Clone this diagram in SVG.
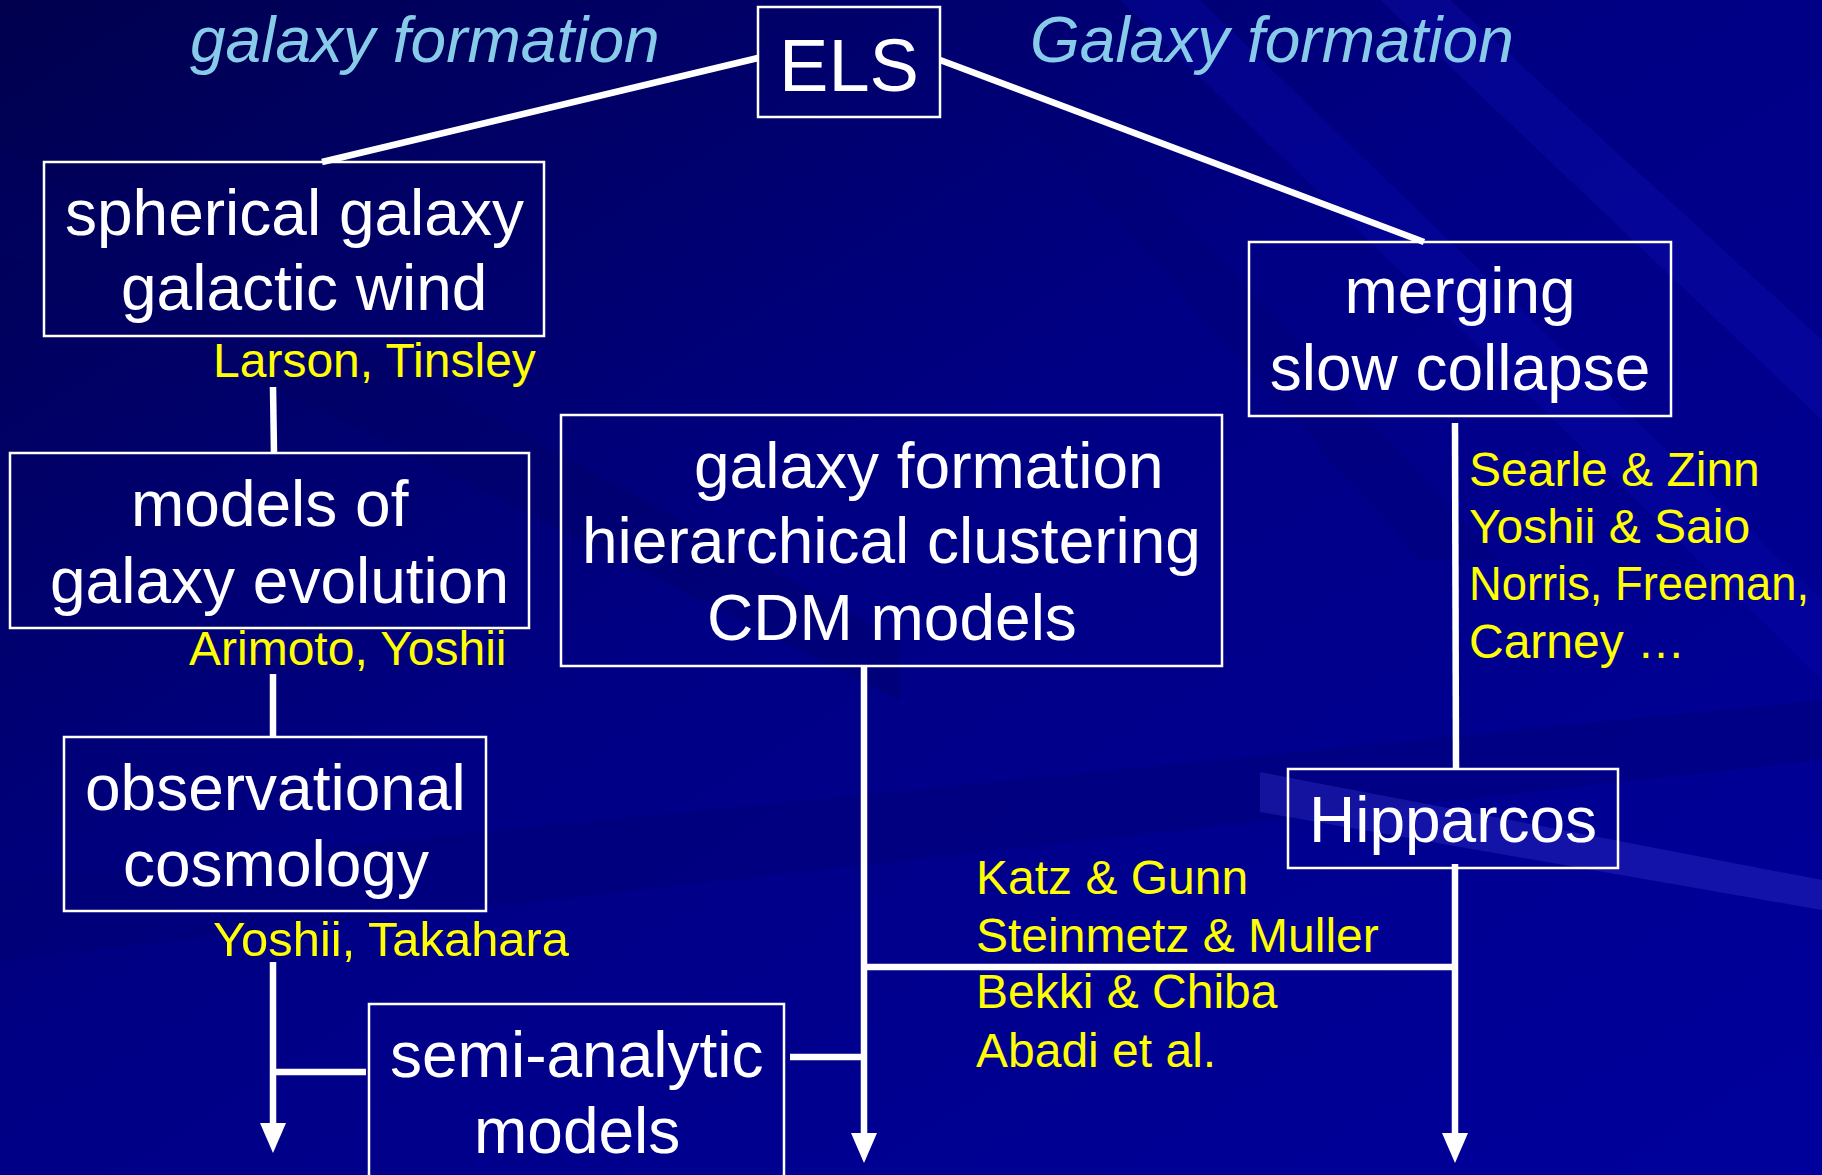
<svg xmlns="http://www.w3.org/2000/svg" width="1822" height="1175" viewBox="0 0 1822 1175">
<defs>
<linearGradient id="bg" x1="0" y1="0" x2="1" y2="1">
<stop offset="0" stop-color="#00004e"/>
<stop offset="0.45" stop-color="#000084"/>
<stop offset="1" stop-color="#00009c"/>
</linearGradient>
<marker id="arr" markerUnits="userSpaceOnUse" markerWidth="30" markerHeight="26" viewBox="0 0 30 26" refX="4" refY="13" orient="auto">
<path d="M0,0 L30,13 L0,26 Z" fill="#ffffff"/>
</marker>
<style>
.box{fill:none;stroke:#ffffff;stroke-width:2.5}
.t{font-family:"Liberation Sans",Arial,sans-serif;font-size:64px;fill:#ffffff}
.y{font-family:"Liberation Sans",Arial,sans-serif;font-size:48px;fill:#ffff00}
.h{font-family:"Liberation Sans",Arial,sans-serif;font-size:64px;font-style:italic;fill:#87cbe8}
.c{fill:none;stroke:#ffffff;stroke-width:6.5}
.m{text-anchor:middle}
</style>
</defs>
<rect width="1822" height="1175" fill="url(#bg)"/>
<g id="background-streaks">
<polygon points="0,150 900,640 900,700 0,250" fill="#000060" opacity="0.35"/>
<polygon points="0,880 1822,700 1822,760 0,960" fill="#000070" opacity="0.35"/>
<polygon points="1260,772 1822,880 1822,910 1260,812" fill="#3030c8" opacity="0.4"/>
<polygon points="1200,0 1822,600 1822,680 1120,0" fill="#0a0ab0" opacity="0.35"/>
<polygon points="1450,0 1822,340 1822,420 1380,0" fill="#1010b8" opacity="0.3"/>
<polygon points="980,0 1500,560 1420,560 920,0" fill="#000070" opacity="0.3"/>
</g>
<text class="h" x="190" y="62">galaxy formation</text>
<text class="h" x="1030" y="62">Galaxy formation</text>
<g id="connectors">
<line class="c" x1="758" y1="58" x2="322" y2="162"/>
<line class="c" x1="940" y1="60" x2="1424" y2="242"/>
<line class="c" x1="273" y1="387" x2="274" y2="453"/>
<line class="c" x1="273" y1="674" x2="273" y2="737"/>
<line class="c" x1="273" y1="962" x2="273" y2="1127" marker-end="url(#arr)"/>
<line class="c" x1="273" y1="1072" x2="366" y2="1072"/>
<line class="c" x1="790" y1="1057" x2="864" y2="1057"/>
<line class="c" x1="864" y1="666" x2="864" y2="1137" marker-end="url(#arr)"/>
<line class="c" x1="864" y1="967" x2="1455" y2="967"/>
<line class="c" x1="1455" y1="423" x2="1456" y2="769"/>
<line class="c" x1="1455" y1="864" x2="1455" y2="1137" marker-end="url(#arr)"/>
</g>
<g id="els">
<rect class="box" x="758" y="7" width="182" height="110"/>
<text class="t m" x="849" y="91" style="font-size:74px">ELS</text>
</g>
<g id="spherical">
<rect class="box" x="44" y="162" width="500" height="174"/>
<text class="t" x="65" y="235">spherical galaxy</text>
<text class="t" x="121" y="310">galactic wind</text>
<text class="y" x="213" y="377">Larson, Tinsley</text>
</g>
<g id="models">
<rect class="box" x="10" y="453" width="519" height="175"/>
<text class="t" x="131" y="526">models of</text>
<text class="t" x="50" y="603">galaxy evolution</text>
<text class="y" x="189" y="665">Arimoto, Yoshii</text>
</g>
<g id="observational">
<rect class="box" x="64" y="737" width="422" height="174"/>
<text class="t" x="85" y="810">observational</text>
<text class="t" x="123" y="886">cosmology</text>
<text class="y" x="213" y="956" textLength="356" lengthAdjust="spacingAndGlyphs">Yoshii, Takahara</text>
</g>
<g id="semi-analytic">
<rect class="box" x="369" y="1004" width="415" height="190"/>
<text class="t" x="390" y="1077">semi-analytic</text>
<text class="t" x="474" y="1153">models</text>
</g>
<g id="hierarchical">
<rect class="box" x="561" y="415" width="661" height="251"/>
<text class="t" x="694" y="488">galaxy formation</text>
<text class="t" x="582" y="563">hierarchical clustering</text>
<text class="t" x="707" y="640">CDM models</text>
</g>
<g id="merging">
<rect class="box" x="1249" y="242" width="422" height="174"/>
<text class="t m" x="1460" y="313">merging</text>
<text class="t m" x="1460" y="390">slow collapse</text>
</g>
<g id="halo-refs">
<text class="y" x="1469" y="486">Searle &amp; Zinn</text>
<text class="y" x="1469" y="543">Yoshii &amp; Saio</text>
<text class="y" x="1469" y="600" textLength="340" lengthAdjust="spacingAndGlyphs">Norris, Freeman,</text>
<text class="y" x="1469" y="658">Carney …</text>
</g>
<g id="hipparcos">
<rect class="box" x="1288" y="769" width="330" height="99"/>
<text class="t m" x="1453" y="842">Hipparcos</text>
</g>
<g id="sim-refs">
<text class="y" x="976" y="894">Katz &amp; Gunn</text>
<text class="y" x="976" y="952">Steinmetz &amp; Muller</text>
<text class="y" x="976" y="1008">Bekki &amp; Chiba</text>
<text class="y" x="976" y="1067">Abadi et al.</text>
</g>
</svg>
